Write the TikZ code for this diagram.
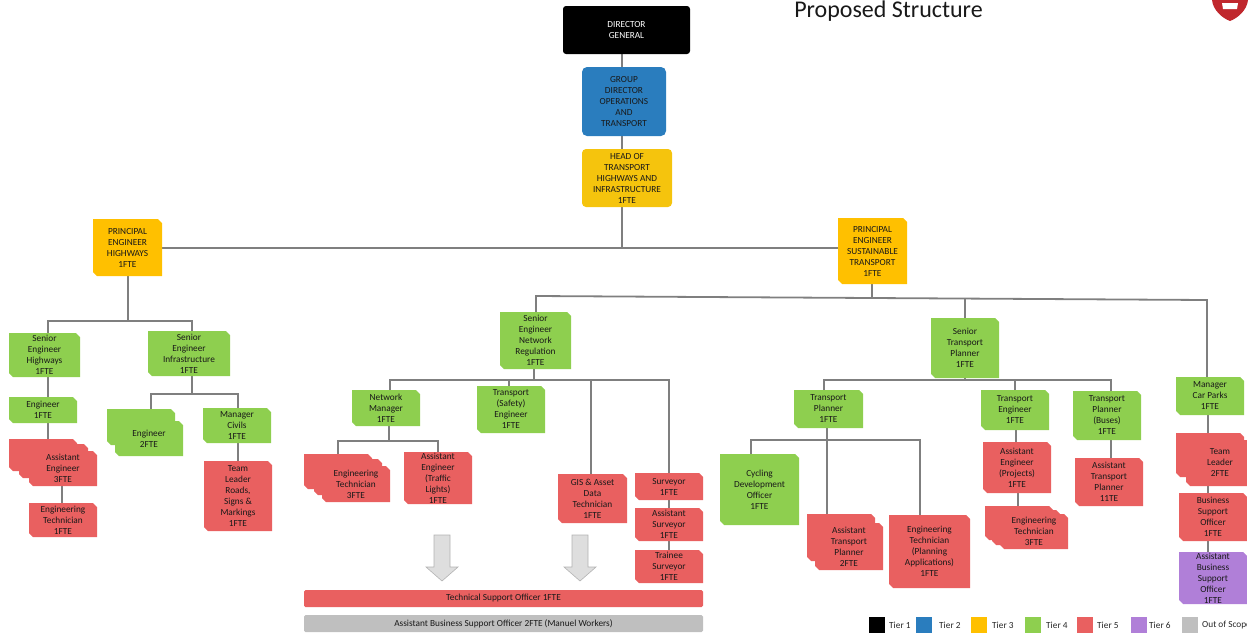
\documentclass[tikz,border=0pt]{standalone}
\usepackage{fontspec}
\setmainfont{Carlito}
\pgfdeclarelayer{lines}
\pgfsetlayers{lines,main}
\definecolor{tone}{HTML}{000000}
\definecolor{ttwo}{HTML}{2A7DBE}
\definecolor{thead}{HTML}{F5C40D}
\definecolor{tthree}{HTML}{FFC000}
\definecolor{tfour}{HTML}{8ECF4F}
\definecolor{tfive}{HTML}{E96060}
\definecolor{tsix}{HTML}{B07FD8}
\definecolor{tout}{HTML}{BFBFBF}
\definecolor{linegrey}{HTML}{7F7F7F}
\definecolor{crest}{HTML}{C0272D}
\tikzset{
  lab/.style={inner sep=0pt,align=center,text=black!90,font=\fontsize{9.3}{11}\selectfont},
  conn/.style={draw=linegrey,line width=1.8pt},
  blockarrow/.style={fill=black!13,draw=black!30,line width=.6pt},
  legendtext/.style={inner sep=0pt,anchor=west,text=black!85,font=\fontsize{9.3}{11}\selectfont},
  swatch/.style={inner sep=0pt,minimum width=16pt,minimum height=16pt}
}
% snipped rectangle without label
\newcommand{\snipcard}[5]{\fill[#5] (#1,#2) -- (#3-4,#2) -- (#3,#2+4) -- (#3,#4) -- (#1+4,#4) -- (#1,#4-4) -- cycle;}
% name, x0, y0, x1, y1, colour, text
\newcommand{\orgbox}[7]{\snipcard{#2}{#3}{#4}{#5}{#6}
  \node[lab,minimum width={(#4-#2)*1pt},minimum height={(#5-#3)*1pt}] (#1) at ({(#2+#4)/2},{(#3+#5)/2}) {#7};}
\newcommand{\roundbox}[8]{\fill[#6,rounded corners=#8pt] (#2,#3) rectangle (#4,#5);
  \node[lab,minimum width={(#4-#2)*1pt},minimum height={(#5-#3)*1pt}] (#1) at ({(#2+#4)/2},{(#3+#5)/2}) {#7};}
% parent, parent x, bus y, child, child x
\newcommand{\link}[5]{\path (#2,0) coordinate (lp) (#5,0) coordinate (lq) (0,#3) coordinate (lr);
  \draw[conn] (#1.south -| lp) -- (lp |- lr) -- (lq |- lr) -- (#4.north -| lq);}
\newcommand{\legend}[5]{\node[swatch,fill=#3] (#1) at (#4,625) {};
  \node[legendtext] (#1t) at (#5,625) {#2};}
\begin{document}
\begin{tikzpicture}[x=1pt,y=-1pt]
\useasboundingbox (0,0) rectangle (1258,635);
% top
\roundbox{dg}{563}{6}{690}{54}{tone}{\textcolor{white}{DIRECTOR}\\\textcolor{white}{GENERAL}}{3}
\roundbox{gd}{582}{67}{666}{136}{ttwo}{GROUP\\DIRECTOR\\OPERATIONS\\AND\\TRANSPORT}{5}
\roundbox{head}{582}{149}{672}{207}{thead}{HEAD OF\\TRANSPORT\\HIGHWAYS AND\\INFRASTRUCTURE\\1FTE}{4}
\orgbox{peh}{93}{219}{162}{276}{tthree}{PRINCIPAL\\ENGINEER\\HIGHWAYS\\1FTE}
\orgbox{pest}{838}{218}{907}{284}{tthree}{PRINCIPAL\\ENGINEER\\SUSTAINABLE\\TRANSPORT\\1FTE}
% highways branch
\orgbox{seh}{9}{333}{80}{377}{tfour}{Senior\\Engineer\\Highways\\1FTE}
\orgbox{sei}{148}{331}{230}{376}{tfour}{Senior\\Engineer\\Infrastructure\\1FTE}
\orgbox{eng}{9}{397}{77}{423}{tfour}{Engineer\\1FTE}
\snipcard{9}{439}{77}{471}{tfive}
\snipcard{19}{444}{88}{478}{tfive}
\orgbox{ae}{29}{451}{97}{486}{tfive}{Assistant\\Engineer\\3FTE}
\orgbox{et}{29}{503}{97}{537}{tfive}{Engineering\\Technician\\1FTE}
\snipcard{107}{409}{175}{445}{tfour}
\orgbox{engb}{115}{421}{183}{456}{tfour}{Engineer\\2FTE}
\orgbox{mc}{203}{408}{271}{443}{tfour}{Manager\\Civils\\1FTE}
\orgbox{tl}{204}{461}{272}{531}{tfive}{Team\\Leader\\Roads,\\Signs \&\\Markings\\1FTE}
% network regulation branch
\orgbox{senr}{500}{312}{571}{369}{tfour}{Senior\\Engineer\\Network\\Regulation\\1FTE}
\orgbox{nm}{352}{390}{420}{426}{tfour}{Network\\Manager\\1FTE}
\orgbox{tse}{477}{386}{545}{433}{tfour}{Transport\\(Safety)\\Engineer\\1FTE}
\snipcard{304}{454}{372}{489}{tfive}
\snipcard{314}{459}{382}{495}{tfive}
\orgbox{etn}{322}{466}{390}{502}{tfive}{Engineering\\Technician\\3FTE}
\orgbox{aet}{404}{452}{472}{504}{tfive}{Assistant\\Engineer\\(Traffic\\Lights)\\1FTE}
\orgbox{gis}{558}{474}{627}{523}{tfive}{GIS \& Asset\\Data\\Technician\\1FTE}
\orgbox{sur}{635}{473}{703}{500}{tfive}{Surveyor\\1FTE}
\orgbox{asur}{635}{508}{703}{541}{tfive}{Assistant\\Surveyor\\1FTE}
\orgbox{tsur}{635}{550}{703}{583}{tfive}{Trainee\\Surveyor\\1FTE}
% block arrows
\draw[blockarrow] (434,535) -- (450,535) -- (450,567) -- (458,567) -- (442,581) -- (426,567) -- (434,567) -- cycle;
\draw[blockarrow] (572,535) -- (588,535) -- (588,567) -- (596,567) -- (580,581) -- (564,567) -- (572,567) -- cycle;
% bars
\roundbox{tso}{304}{590}{703}{607}{tfive}{Technical Support Officer 1FTE}{1.5}
\roundbox{abso}{304}{615}{703}{632}{tout}{Assistant Business Support Officer 2FTE (Manuel Workers)}{1.5}
% sustainable transport branch
\orgbox{stp}{931}{318}{999}{378}{tfour}{Senior\\Transport\\Planner\\1FTE}
\orgbox{tp}{794}{390}{863}{428}{tfour}{Transport\\Planner\\1FTE}
\orgbox{te}{981}{390}{1049}{430}{tfour}{Transport\\Engineer\\1FTE}
\orgbox{tpb}{1073}{391}{1141}{440}{tfour}{Transport\\Planner\\(Buses)\\1FTE}
\orgbox{cdo}{720}{454}{799}{525}{tfour}{Cycling\\Development\\Officer\\1FTE}
\snipcard{807}{514}{875}{561}{tfive}
\orgbox{atp}{815}{523}{883}{570}{tfive}{Assistant\\Transport\\Planner\\2FTE}
\orgbox{etp}{889}{515}{970}{588}{tfive}{Engineering\\Technician\\(Planning\\Applications)\\1FTE}
\orgbox{aep}{983}{442}{1051}{493}{tfive}{Assistant\\Engineer\\(Projects)\\1FTE}
\snipcard{985}{506}{1053}{540}{tfive}
\snipcard{992}{510}{1060}{545}{tfive}
\orgbox{ett}{1000}{514}{1068}{549}{tfive}{Engineering\\Technician\\3FTE}
\orgbox{atb}{1075}{458}{1143}{506}{tfive}{Assistant\\Transport\\Planner\\11TE}
\orgbox{mcp}{1176}{377}{1244}{415}{tfour}{Manager\\Car Parks\\1FTE}
\snipcard{1176}{433}{1244}{477}{tfive}
\orgbox{tlc}{1186}{440}{1254}{486}{tfive}{Team\\Leader\\2FTE}
\orgbox{bso}{1179}{493}{1247}{541}{tfive}{Business\\Support\\Officer\\1FTE}
\orgbox{abo}{1179}{552}{1247}{604}{tsix}{Assistant\\Business\\Support\\Officer\\1FTE}
% crop at the right edge of the slide
\fill[white] (1247,370) rectangle (1258,635);
% connectors
\begin{pgfonlayer}{lines}
\link{dg}{622}{60}{gd}{622}
\link{gd}{622}{142}{head}{622}
\coordinate (hx) at (622,248);
\draw[conn] (head.south -| hx) -- (hx);
\draw[conn] (peh.east |- hx) -- (pest.west |- hx);
\link{peh}{128}{321}{seh}{48}
\link{peh}{128}{321}{sei}{192}
\link{seh}{48}{387}{eng}{48}
\link{eng}{48}{430}{ae}{48}
\link{ae}{62}{495}{et}{62}
\link{sei}{192}{394}{engb}{151}
\link{sei}{192}{394}{mc}{238}
\link{mc}{238}{452}{tl}{238}
\coordinate (sb0) at (872,297.5);
\coordinate (sb1) at (536,296);
\coordinate (sb2) at (965,298.5);
\coordinate (sb3) at (1207,300);
\draw[conn] (pest.south -| sb0) -- (sb0);
\draw[conn] (senr.north -| sb1) -- (sb1) -- (sb3) -- (mcp.north -| sb3);
\draw[conn] (sb2) -- (stp.north -| sb2);
\link{senr}{534}{380}{nm}{390}
\link{senr}{534}{380}{tse}{509}
\link{senr}{534}{380}{gis}{591}
\link{senr}{534}{380}{sur}{669}
\link{nm}{389}{441}{etn}{338}
\link{nm}{389}{441}{aet}{438}
\link{sur}{669}{504}{asur}{669}
\link{asur}{669}{545}{tsur}{669}
\link{stp}{965}{380}{tp}{824}
\link{stp}{965}{380}{te}{1015}
\link{stp}{965}{380}{tpb}{1111}
\link{tp}{827}{440}{cdo}{751}
\link{tp}{827}{440}{atp}{827}
\link{tp}{827}{440}{etp}{920}
\link{te}{1016}{436}{aep}{1016}
\link{aep}{1018}{500}{ett}{1018}
\link{tpb}{1111}{450}{atb}{1111}
\link{mcp}{1208}{425}{tlc}{1208}
\link{tlc}{1208}{490}{bso}{1208}
\link{bso}{1208}{547}{abo}{1208}
\end{pgfonlayer}
% title and crest
\node[inner sep=0pt,text=black!90,font=\fontsize{24}{26}\selectfont] (title) at (888.5,11) {Proposed Structure};
\fill[crest] (1212,0) -- (1248,0) .. controls (1247,10) and (1238,18) .. (1230,21) .. controls (1222,18) and (1213,10) .. (1212,0) -- cycle;
\fill[white] (1222,3) -- (1238,3) -- (1237,9) -- (1223,9) -- cycle;
% legend
\legend{la}{Tier 1}{tone}{877}{889}
\legend{lb}{Tier 2}{ttwo}{924}{939}
\legend{lc}{Tier 3}{tthree}{979}{992}
\legend{ld}{Tier 4}{tfour}{1033}{1046}
\legend{le}{Tier 5}{tfive}{1085}{1097}
\legend{lf}{Tier 6}{tsix}{1139}{1149}
\legend{lg}{Out of Scope}{tout}{1190}{1202}
\fill[white] (1247,610) rectangle (1258,635);
\end{tikzpicture}
\end{document}
